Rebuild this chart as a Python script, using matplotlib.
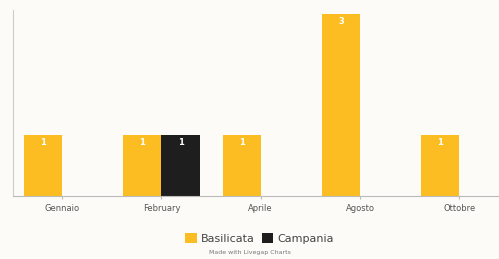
import matplotlib.pyplot as plt
import numpy as np

months = ["Gennaio", "February", "Aprile", "Agosto", "Ottobre"]
basilicata = [1, 1, 1, 3, 1]
campania = [0, 1, 0, 0, 0]

yellow = "#fbbd22"
black = "#1e1e1e"
bg = "#fcfbf7"

fig = plt.figure(figsize=(4.99, 2.59), dpi=100)
fig.patch.set_facecolor(bg)
ax = fig.add_axes([13/499, 63/259, 1 - 13/499, 186/259])
ax.set_facecolor(bg)

x = np.arange(len(months))
w = 0.384
b1 = ax.bar(x - w/2, basilicata, w, color=yellow, label="Basilicata")
b2 = ax.bar(x + w/2, campania, w, color=black, label="Campania")

for bars, vals in ((b1, basilicata), (b2, campania)):
    for r, v in zip(bars, vals):
        if v > 0:
            ax.text(r.get_x() + r.get_width()/2, v - 0.04, str(v), ha="center", va="top",
                    color="white", fontsize=6, fontweight="bold")

ax.set_xlim(-0.495, 4.4)
ax.set_ylim(0, 3.07)
ax.set_xticks(x)
ax.set_xticklabels(months, fontsize=6, color="#555555")
ax.tick_params(axis="x", length=2, color="#bbbbbb", pad=3.5)
ax.set_yticks([])
for s in ["top", "right"]:
    ax.spines[s].set_visible(False)
ax.spines["left"].set_color("#cccccc")
ax.spines["bottom"].set_color("#bbbbbb")

fig.legend(handles=[b1, b2], loc="center", bbox_to_anchor=(0.52, 0.08), ncol=2, frameon=False,
           fontsize=8, handlelength=1.0, handleheight=1.0, columnspacing=0.6,
           handletextpad=0.4, labelcolor="#444444")
fig.text(0.5, 0.025, "Made with Livegap Charts", ha="center", va="center", fontsize=4.5, color="#777777")

fig.savefig("out.png", dpi=100, facecolor=bg)
